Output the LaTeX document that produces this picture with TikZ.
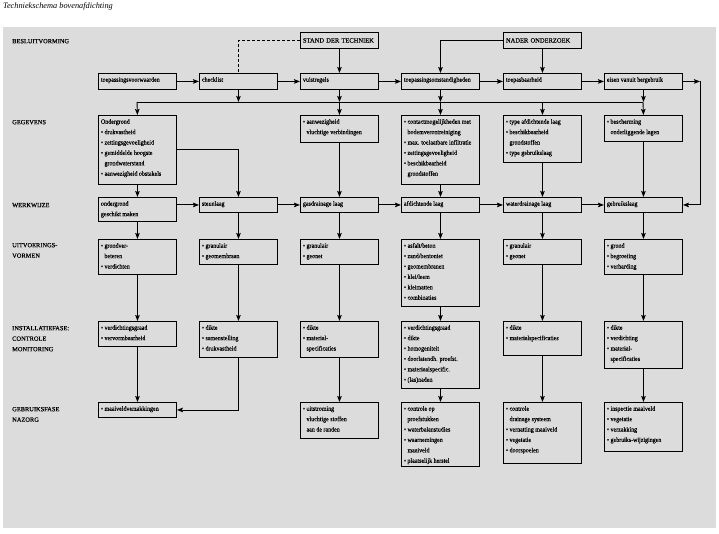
\documentclass[tikz,border=0pt]{standalone}
\usepackage{fontspec}
\setmainfont{Liberation Serif}
\newfontfamily\bxf{Liberation Serif}[FakeStretch=0.92,FakeBold=0.25]
\newfontfamily\lbf{Liberation Serif}[FakeBold=0.25]
\usetikzlibrary{arrows.meta}
\definecolor{bggray}{RGB}{220,220,220}
\newcommand\bu{\textbullet\ }
\newcommand\ind{\hphantom{\textbullet\ }}
% box: name, x, y(top), total height, text
\newcommand\bx[5]{\node[box] (#1) at (#2,#3)
  {\parbox[t][\dimexpr#4pt-2pt\relax][t]{73pt}{\raggedright\rule{0pt}{7.3pt}#5}};}
\begin{document}
\begin{tikzpicture}[x=1pt,y=-1pt,
  box/.style={draw, line width=0.9pt, anchor=north west, minimum width=78pt,
    inner xsep=2.5pt, inner ysep=1pt,
    font=\bxf\fontsize{6.5}{10.4}\selectfont},
  capbox/.style={draw, line width=0.9pt, anchor=north west, minimum width=78pt,
    minimum height=16pt, text width=73pt, inner xsep=2.5pt, inner ysep=1pt, align=left,
    font=\lbf\fontsize{6.5}{10.5}\selectfont},
  arr/.style={line width=0.9pt, -{Stealth[length=6pt,width=4.5pt,inset=1pt]}},
  ln/.style={line width=0.9pt},
  lbl/.style={anchor=north west, inner sep=0pt, align=left,
    font=\lbf\fontsize{6.4}{10.5}\selectfont}]
\useasboundingbox (0,0) rectangle (719,534);
\fill[bggray] (3,27) rectangle (716,528);
\node[anchor=base west, inner sep=0pt, font=\itshape\fontsize{8.3}{10}\selectfont] (title) at (3,9) {Techniekschema bovenafdichting};

% row labels
\node[lbl] (l1) at (12,38.8) {BESLUITVORMING};
\node[lbl] (l2) at (12,119.8) {GEGEVENS};
\node[lbl] (l3) at (12,202.8) {WERKWIJZE};
\node[lbl] (l4) at (12,242.8) {UITVOERINGS-\\VORMEN};
\node[lbl] (l5) at (12,325.8) {INSTALLATIEFASE:\\CONTROLE\\MONITORING};
\node[lbl] (l6) at (12,406.8) {GEBRUIKSFASE\\NAZORG};

% top boxes
\node[capbox] (std) at (300,32) {STAND DER TECHNIEK};
\node[capbox] (nad) at (503,32) {NADER ONDERZOEK};

% row 1
\bx{b11}{98}{73}{16}{toepassingsvoorwaarden}
\bx{b12}{199}{73}{16}{checklist}
\bx{b13}{300}{73}{16}{vuistregels}
\bx{b14}{401}{73}{16}{toepassingsomstandigheden}
\bx{b15}{503}{73}{16}{toepasbaarheid}
\bx{b16}{604}{73}{16}{eisen vanuit hergebruik}

% gegevens
\bx{g1}{98}{115}{69}{Ondergrond\\\bu drukvastheid\\\bu zettingsgevoeligheid\\\bu gemiddelde hoogste\\\ind grondwaterstand\\\bu aanwezigheid obstakels}
\bx{g3}{300}{115}{27}{\bu aanwezigheid\\\ind vluchtige verbindingen}
\bx{g4}{401}{115}{69}{\bu contactmogelijkheden met\\\ind bodemverontreiniging\\\bu max. toelaatbare infiltratie\\\bu zettingsgevoeligheid\\\bu beschikbaarheid\\\ind grondstoffen}
\bx{g5}{503}{115}{47}{\bu type afdichtende laag\\\bu beschikbaarheid\\\ind grondstoffen\\\bu type gebruikslaag}
\bx{g6}{604}{115}{26}{\bu bescherming\\\ind onderliggende lagen}

% werkwijze
\bx{w1}{98}{197}{24}{ondergrond\\geschikt maken}
\bx{w2}{199}{197}{15}{steunlaag}
\bx{w3}{300}{197}{15}{gasdrainage laag}
\bx{w4}{401}{197}{15}{afdichtende laag}
\bx{w5}{503}{197}{15}{waterdrainage laag}
\bx{w6}{604}{197}{15}{gebruikslaag}

% uitvoeringsvormen
\bx{u1}{98}{239}{35}{\bu grondver-\\\ind beteren\\\bu verdichten}
\bx{u2}{199}{239}{25}{\bu granulair\\\bu geomembraan}
\bx{u3}{300}{239}{25}{\bu granulair\\\bu geonet}
\bx{u4}{401}{239}{67}{\bu asfalt/beton\\\bu zand/bentoniet\\\bu geomembranen\\\bu klei/leem\\\bu kleimatten\\\bu combinaties}
\bx{u5}{503}{239}{25}{\bu granulair\\\bu geonet}
\bx{u6}{604}{239}{35}{\bu grond\\\bu begroeiing\\\bu verharding}

% installatiefase
\bx{i1}{98}{321}{25}{\bu verdichtingsgraad\\\bu vervormbaarheid}
\bx{i2}{199}{321}{36}{\bu dikte\\\bu samenstelling\\\bu drukvastheid}
\bx{i3}{300}{321}{36}{\bu dikte\\\bu material-\\\ind specificaties}
\bx{i4}{401}{321}{67}{\bu verdichtingsgraad\\\bu dikte\\\bu homogeniteit\\\bu doorlatendh. proefst.\\\bu materiaalspecific.\\\bu (las)naden}
\bx{i5}{503}{321}{34}{\bu dikte\\\bu materialspecificaties}
\bx{i6}{604}{321}{47}{\bu dikte\\\bu verdichting\\\bu material-\\\ind specificaties}

% gebruiksfase
\bx{n1}{98}{402}{15}{\bu maaiveldverzakkingen}
\bx{n3}{300}{402}{36}{\bu uitstroming\\\ind vluchtige stoffen\\\ind aan de randen}
\bx{n4}{401}{402}{64}{\bu controle op\\\ind proefstukken\\\bu waterbalanstudies\\\bu waarnemingen\\\ind maaiveld\\\bu plaatselijk herstel}
\bx{n5}{503}{402}{61}{\bu controle\\\ind drainage systeem\\\bu vernatting maaiveld\\\bu vegetatie\\\bu doorspoelen}
\bx{n6}{604}{402}{49}{\bu inspectie maaiveld\\\bu vegetatie\\\bu verzakking\\\bu gebruiks-wijzigingen}

% top connectors
\draw[ln, dash pattern=on 3pt off 2pt] (std.west) -| (b12.north);
\draw[arr] (std.south) -- (b13.north);
\draw[arr] (nad.west) -| (b14.north);
\draw[arr] (nad.south) -- (b15.north);

% row 1 arrows
\draw[arr] (b11.east) -- (b12.west);
\draw[arr] (b12.east) -- (b13.west);
\draw[arr] (b13.east) -- (b14.west);
\draw[arr] (b14.east) -- (b15.west);
\draw[arr] (b15.east) -- (b16.west);
\coordinate (rc) at (700,81);
\draw[arr] (b16.east) -- (b16.east -| rc);
\draw[arr] (b16.east -| rc) |- (w6.east);

% bus
\coordinate (busL) at (137,102);
\coordinate (busR) at (643,102);
\draw[ln] (busL) -- (busR);
\draw[arr] (b12.south) -- (b12.south |- busL);
\draw[arr] (b13.south) -- (b13.south |- busL);
\draw[arr] (b14.south) -- (b14.south |- busL);
\draw[arr] (b16.south) -- (b16.south |- busL);
\draw[arr] (busL) -- (g1.north);
\draw[arr] (g3.north |- busL) -- (g3.north);
\draw[arr] (g4.north |- busL) -- (g4.north);
\draw[arr] (g5.north |- busL) -- (g5.north);
\draw[arr] (busR) -- (g6.north);

% gegevens -> werkwijze
\draw[arr] (g1.south) -- (w1.north);
\draw[arr] (g1.east) -| (w2.north);
\draw[arr] (g3.south) -- (w3.north);
\draw[arr] (g4.south) -- (w4.north);
\draw[arr] (g5.south) -- (w5.north);
\draw[arr] (g6.south) -- (w6.north);

% werkwijze row
\draw[arr] (w1.east |- w2.west) -- (w2.west);
\draw[arr] (w2.east) -- (w3.west);
\draw[arr] (w3.east) -- (w4.west);
\draw[arr] (w4.east) -- (w5.west);
\draw[arr] (w5.east) -- (w6.west);

% columns
\draw[arr] (w1.south) -- (u1.north);
\draw[arr] (w2.south) -- (u2.north);
\draw[arr] (w3.south) -- (u3.north);
\draw[arr] (w4.south) -- (u4.north);
\draw[arr] (w5.south) -- (u5.north);
\draw[arr] (w6.south) -- (u6.north);
\draw[arr] (u1.south) -- (i1.north);
\draw[arr] (u2.south) -- (i2.north);
\draw[arr] (u3.south) -- (i3.north);
\draw[arr] (u4.south) -- (i4.north);
\draw[arr] (u5.south) -- (i5.north);
\draw[arr] (u6.south) -- (i6.north);
\draw[arr] (i1.south) -- (n1.north);
\draw[arr] (i2.south) |- (n1.east);
\draw[arr] (i3.south) -- (n3.north);
\draw[arr] (i4.south) -- (n4.north);
\draw[arr] (i5.south) -- (n5.north);
\draw[arr] (i6.south) -- (n6.north);
\end{tikzpicture}
\end{document}
